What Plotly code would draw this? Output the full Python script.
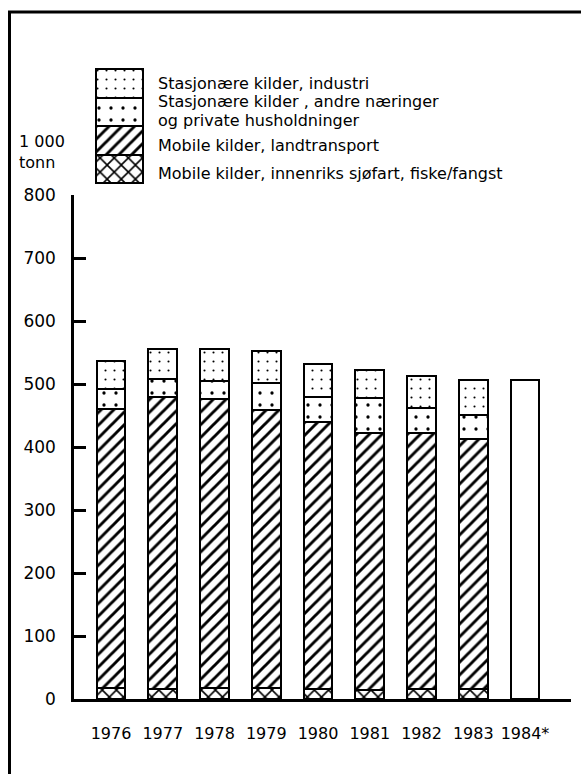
import plotly.graph_objects as go

# Emissions by source, 1 000 tonnes
years = [1976, 1977, 1978, 1979, 1980, 1981, 1982, 1983]
year_labels = ["1976", "1977", "1978", "1979", "1980", "1981", "1982", "1983", "1984*"]
sjofart = [18, 16, 17, 17, 16, 15, 16, 16]
landtransport = [442, 463, 459, 442, 423, 408, 407, 397]
andre_naeringer = [32, 29, 29, 43, 41, 54, 39, 38]
industri = [45, 47, 50, 50, 51, 45, 51, 55]
total_year = [1984]
total_value = [507]

y_ticks = [0, 100, 200, 300, 400, 500, 600, 700, 800]

legend_lines = [
    ("Stasjonære kilder, industri", 83),
    ("Stasjonære kilder , andre næringer", 101.5),
    ("og private husholdninger", 120.5),
    ("Mobile kilder, landtransport", 146),
    ("Mobile kilder, innenriks sjøfart, fiske/fangst", 174),
]

W, H = 581, 774
FONT = "DejaVu Sans, Verdana, sans-serif"


def px_x(p):
    return p / W


def px_y(p):
    return (H - p) / H


patterns = {
    "sjofart": dict(shape="x", size=10, solidity=0.3),
    "land": dict(shape="/", size=9, solidity=0.32),
    "andre": dict(shape=".", size=12, solidity=0.06),
    "industri": dict(shape=".", size=9, solidity=0.045),
}


def marker(key):
    pat = dict(fgcolor="black", bgcolor="white", **patterns[key])
    return dict(color="white", line=dict(color="black", width=2.5), pattern=pat)


fig = go.Figure()

series = [
    ("sjofart", sjofart),
    ("land", landtransport),
    ("andre", andre_naeringer),
    ("industri", industri),
]
for key, vals in series:
    fig.add_trace(go.Bar(x=years, y=vals, width=0.56, marker=marker(key),
                         showlegend=False, hoverinfo="skip"))

fig.add_trace(go.Bar(x=total_year, y=total_value, width=0.56,
                     marker=dict(color="white", line=dict(color="black", width=2.5)),
                     showlegend=False, hoverinfo="skip"))

# Key: a stack of four equal boxes on its own small axes
for key, _ in series:
    fig.add_trace(go.Bar(x=[0], y=[1], width=1, marker=marker(key),
                         xaxis="x2", yaxis="y2", showlegend=False, hoverinfo="skip"))

annotations = []
for text, yc in legend_lines:
    annotations.append(dict(text=text, x=px_x(156), y=px_y(yc), xref="paper", yref="paper",
                            xanchor="left", yanchor="middle", showarrow=False,
                            font=dict(family=FONT, size=16, color="black")))
annotations.append(dict(text="1 000<br>tonn", x=px_x(17), y=px_y(152), xref="paper", yref="paper",
                        xanchor="left", yanchor="middle", align="left", showarrow=False,
                        font=dict(family=FONT, size=16, color="black")))

frame = dict(type="path", xref="paper", yref="paper",
             path=f"M {px_x(9.5)},{px_y(776)} L {px_x(9.5)},{px_y(12)} L {px_x(583)},{px_y(12)}",
             line=dict(color="black", width=3))

fig.update_layout(
    width=W, height=H,
    margin=dict(l=0, r=0, t=0, b=0),
    template="none",
    paper_bgcolor="white", plot_bgcolor="white",
    barmode="stack",
    bargap=0,
    hovermode=False,
    showlegend=False,
    font=dict(family=FONT, size=16, color="black"),
    xaxis=dict(domain=[px_x(74), px_x(571)], range=[1975.285, 1984.889],
               tickvals=years + total_year, ticktext=year_labels,
               showline=True, linecolor="black", linewidth=2.5,
               ticks="", showgrid=False, zeroline=False,
               ticklabelstandoff=18, automargin=False,
               tickfont=dict(family=FONT, size=16, color="black")),
    yaxis=dict(domain=[px_y(699), px_y(195)], range=[0, 800],
               tickvals=y_ticks, ticktext=[str(v) for v in y_ticks],
               showline=True, linecolor="black", linewidth=2.5,
               ticks="inside", ticklen=12, tickwidth=2.5, tickcolor="black",
               showgrid=False, zeroline=False,
               ticklabelstandoff=12, automargin=False,
               tickfont=dict(family=FONT, size=17, color="black")),
    xaxis2=dict(domain=[px_x(93), px_x(146)], range=[-0.5638, 0.5638],
                anchor="y2", visible=False),
    yaxis2=dict(domain=[px_y(187), px_y(66)], range=[-0.13, 4.116],
                anchor="x2", visible=False),
    annotations=annotations,
    shapes=[frame],
)

fig.write_html("out.html")
